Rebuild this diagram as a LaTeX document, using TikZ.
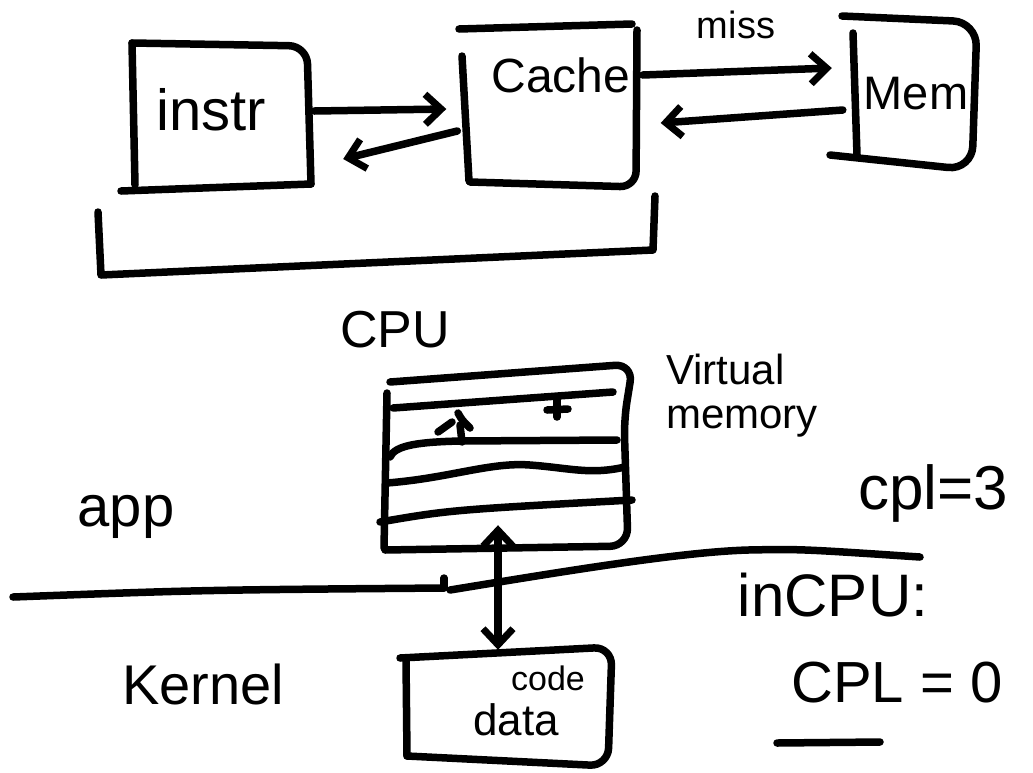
\documentclass[tikz,border=0pt]{standalone}
\usepackage{fontspec}
\setmainfont{Liberation Sans}
\usetikzlibrary{arrows.meta,calc}

\tikzset{
  ink/.style={line width=7.5pt, line cap=round, line join=round, draw=black},
  frame/.style={inner sep=0pt, rectangle},
  barb/.tip={Straight Barb[length=16pt,width=30pt,line width=7pt]},
  arr/.style={ink, -barb},
  darr/.style={ink, barb-barb},
  hand/.style={inner sep=0pt, font=\fontsize{#1}{#1}\selectfont},
  hand/.default=48
}

\begin{document}
\begin{tikzpicture}[x=1pt, y=-1pt]
  \useasboundingbox (0,0) rectangle (1033,772);

  % --- box areas (outlines are drawn by hand below) ---
  \node[frame, minimum width=176pt, minimum height=144pt] (instr) at (220,115) {};
  \node[frame, minimum width=175pt, minimum height=159pt] (cache) at (550,106) {};
  \node[frame, minimum width=122pt, minimum height=147pt] (mem) at (914,92) {};
  \node[frame, minimum width=245pt, minimum height=188pt] (vm) at (508,456) {};
  \node[frame, minimum width=209pt, minimum height=112pt] (kd) at (508,706) {};

  % instr box
  \draw[ink, rounded corners=18pt] (132,43) -- (307,46) -- (311,184);
  \draw[ink] (132,43) -- (135,185);
  \draw[ink] (121,191) -- (311,184);
  \node[hand=58] (instrtxt) at (211,110) {instr};

  % cache box
  \draw[ink] (459,29) -- (632,24);
  \draw[ink, rounded corners=16pt] (637,30) -- (636,187) -- (470,182);
  \draw[ink] (462,56) -- (469,181);
  \node[hand=48] (cachetxt) at (561,75) {Cache};

  % memory box
  \draw[ink, rounded corners=24pt] (842,16) -- (977,22) -- (972,170) -- (830,155);
  \draw[ink] (853,33) -- (857,155);
  \node[hand=47] (memtxt) at (916,94) {Mem};

  % requests and replies
  \draw[arr] ($(instr.east)+(6,-4)$) -- ($(cache.west)+(-16,3)$);
  \draw[arr] ($(cache.west)+(-5,25)$) -- ($(instr.east)+(35,44)$);
  \draw[arr] ($(cache.east)+(5,-31)$) -- ($(mem.west)+(-21,-24)$);
  \draw[arr] ($(mem.west)+(-10,18)$) -- ($(cache.east)+(23,17)$);
  \node[hand=38] (miss) at (736,25) {miss};

  % bracket grouping instr and cache as the CPU
  \draw[ink] (98,212) -- (101,275) -- (653,250) -- (655,196);
  \node[hand=52] (cpu) at (395,330) {CPU};

  % --- virtual memory stack ---
  \draw[ink, rounded corners=18pt] (390,382) -- (633,364) -- (624,420) -- (628,546) -- (385,550);
  \draw[ink] (387,393) -- (384,548);
  \draw[ink] (393,408) -- (613,392);
  \draw[ink] (390,457) .. controls (395,445) and (420,442) .. (460,441) -- (617,440);
  \draw[ink] (387,483) .. controls (450,478) and (490,462) .. (530,465)
             .. controls (570,468) and (590,475) .. (625,467);
  \draw[ink] (380,522) .. controls (450,510) .. (632,500);
  % small marks in the first slot
  \draw[ink] (438,432) -- (452,422);
  \draw[ink] (458,413) .. controls (462,420) .. (470,428);
  \draw[ink] (460,425) -- (462,442);
  \draw[ink] (547,410) -- (568,409);
  \draw[ink] (557,397) -- (557,417);
  \node[hand=42, align=left, font=\fontsize{42}{44}\selectfont] (vmtxt) at (742,396) {Virtual\\memory};

  % --- privilege boundary ---
  \node[hand=62] (cpl3) at (933,493) {cpl=3};
  \node[hand=58] (app) at (126,517) {app};
  \coordinate (bl) at (13,597);
  \coordinate (bm) at (444,588);
  \coordinate (bk) at (444,578);
  \coordinate (bs) at (450,590);
  \coordinate (bc) at (748,550);
  \coordinate (br) at (920,557);
  \draw[ink] (bl) .. controls (200,590) .. (bm);
  \draw[ink] (bk) -- (bm);
  \draw[ink] (bs) .. controls (560,572) and (680,552) .. (bc) .. controls (800,549) .. (br);
  \node[hand=56] (kernel) at (203,684) {Kernel};

  % --- kernel code/data ---
  \draw[ink, rounded corners=18pt] (400,658) -- (612,647) -- (608,766) -- (407,756);
  \draw[ink] (406,660) -- (407,756);
  \node[hand=34] (code) at (548,678) {code};
  \node[hand=44] (data) at (516,720) {data};
  \coordinate (vmport) at ($(vm.south)+(-10,-25)$);
  \draw[darr] (vmport) -- (vmport |- kd.north);

  % --- note on the right ---
  \node[hand=60] (incpu) at (833,595) {inCPU:};
  \node[hand=58] (cpl0) at (897,683) {CPL = 0};
  \coordinate (ul) at (777,743);
  \coordinate (ur) at (880,742);
  \draw[ink] (ul) -- (ur);
\end{tikzpicture}
\end{document}
